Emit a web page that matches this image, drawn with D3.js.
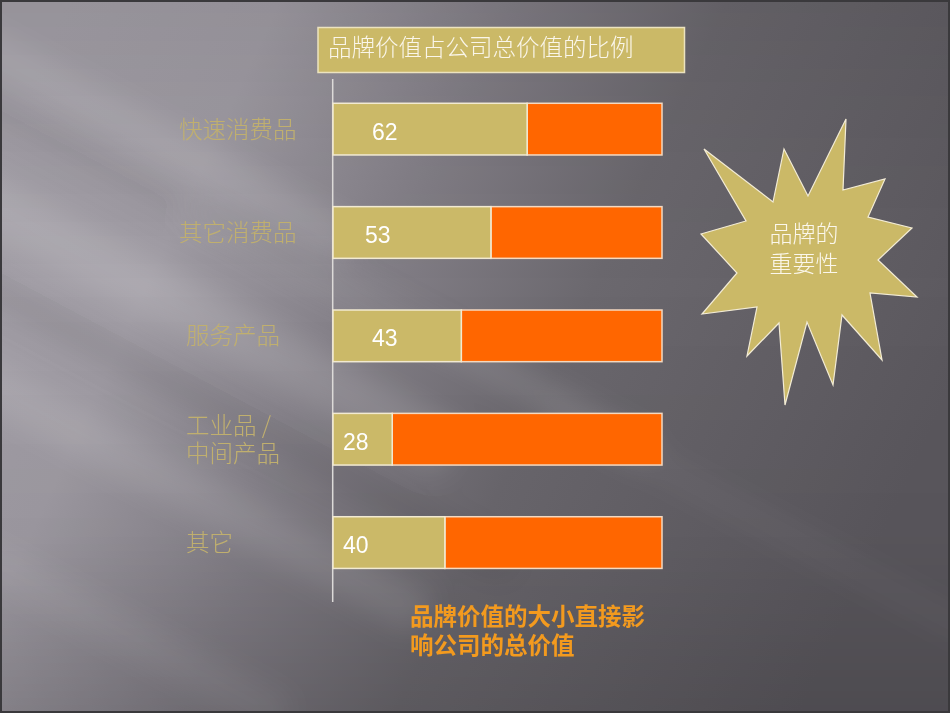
<!DOCTYPE html>
<html>
<head>
<meta charset="utf-8">
<script src="https://cdn.jsdelivr.net/npm/d3@7"></script>
<style>
  html, body { margin: 0; padding: 0; background: #5c595f; }
  svg { display: block; }
</style>
</head>
<body>
<svg id="chart" width="950" height="713"></svg>
<script>
// ---- data ----
const categories = ["快速消费品", "其它消费品", "服务产品", "工业品 /\n中间产品", "其它"];
const brandShare = [59, 48, 39, 18, 34];          // tan segment length as drawn (% of bar)
const valueLabels = ["62", "53", "43", "28", "40"]; // printed values
const chartTitle = "品牌价值占公司总价值的比例";
const noteLines = ["品牌价值的大小直接影", "响公司的总价值"];
const burstLines = ["品牌的", "重要性"];

// ---- drawing ----
const W = 950, H = 713;
const svg = d3.select("#chart");
const defs = svg.append("defs");

// background
const bg = defs.append("linearGradient").attr("id", "bg")
  .attr("x1", "0").attr("y1", "0.2").attr("x2", "1").attr("y2", "0.55");
[[0, "#a4a0a8"], [0.2, "#a09ca4"], [0.42, "#827e86"], [0.62, "#6b686e"], [1, "#5b585e"]]
  .forEach(([o, c]) => bg.append("stop").attr("offset", o).attr("stop-color", c));
const vg = defs.append("linearGradient").attr("id", "vshade")
  .attr("x1", "0").attr("y1", "0").attr("x2", "0").attr("y2", "1");
[[0, "#000", 0.08], [0.4, "#000", 0], [0.75, "#000", 0.04], [1, "#000", 0.14]]
  .forEach(([o, c, a]) => vg.append("stop").attr("offset", o).attr("stop-color", c).attr("stop-opacity", a));
const blur = defs.append("filter").attr("id", "blur")
  .attr("x", "-50%").attr("y", "-50%").attr("width", "200%").attr("height", "200%");
blur.append("feGaussianBlur").attr("stdDeviation", 14);

svg.append("rect").attr("width", W).attr("height", H).attr("fill", "url(#bg)");
const streaks = svg.append("g").attr("filter", "url(#blur)");
[
  { cx: 120, cy: 120, w: 520, h: 40, o: 0.12, c: "#fff" },
  { cx: 170, cy: 300, w: 640, h: 55, o: 0.13, c: "#fff" },
  { cx: 150, cy: 470, w: 620, h: 45, o: 0.11, c: "#fff" },
  { cx: 420, cy: 330, w: 520, h: 30, o: 0.10, c: "#fff" },
  { cx: 100, cy: 620, w: 420, h: 40, o: 0.07, c: "#fff" },
  { cx: 200, cy: 400, w: 700, h: 28, o: 0.08, c: "#000" },
  { cx: 180, cy: 200, w: 600, h: 24, o: 0.06, c: "#000" },
  { cx: 760, cy: 520, w: 500, h: 30, o: 0.04, c: "#fff" }
].forEach(s => streaks.append("rect")
  .attr("x", s.cx - s.w / 2).attr("y", s.cy - s.h / 2)
  .attr("width", s.w).attr("height", s.h)
  .attr("fill", s.c).attr("opacity", s.o)
  .attr("transform", `rotate(28 ${s.cx} ${s.cy})`));
svg.append("rect").attr("width", W).attr("height", H).attr("fill", "url(#vshade)");
svg.append("rect").attr("x", 1).attr("y", 1).attr("width", W - 2).attr("height", H - 2)
  .attr("fill", "none").attr("stroke", "#3a393c").attr("stroke-width", 2);

// scales
const x = d3.scaleLinear().domain([0, 100]).range([333, 662]);
const y = d3.scaleBand().domain(categories).range([51.6, 620.1])
  .paddingInner(0.5).paddingOuter(0.5);

// vertical axis line
svg.append("line").attr("x1", 332.7).attr("x2", 332.7).attr("y1", 79).attr("y2", 602)
  .attr("stroke", "#dcdad8").attr("stroke-width", 1.5);

// title box
svg.append("rect").attr("x", 318).attr("y", 27.5).attr("width", 366.5).attr("height", 45)
  .attr("fill", "#cbb967").attr("stroke", "#ece3bf").attr("stroke-width", 1.5);
svg.append("text").attr("x", 328).attr("y", 48).attr("dy", "0.36em")
  .attr("font-family", "'Noto Sans CJK SC', sans-serif").attr("font-weight", 300)
  .attr("font-size", 23.5).attr("fill", "#faf6ea").text(chartTitle);

// bars
const rows = categories.map((c, i) => ({ cat: c, v: brandShare[i], label: valueLabels[i] }));
const g = svg.append("g");
g.selectAll("rect.rest").data(rows).join("rect").attr("class", "rest")
  .attr("x", d => x(d.v)).attr("y", d => y(d.cat))
  .attr("width", d => x(100) - x(d.v)).attr("height", y.bandwidth())
  .attr("fill", "#ff6600").attr("stroke", "#f4d9c0").attr("stroke-width", 1.5);
g.selectAll("rect.brand").data(rows).join("rect").attr("class", "brand")
  .attr("x", x(0)).attr("y", d => y(d.cat))
  .attr("width", d => x(d.v) - x(0)).attr("height", y.bandwidth())
  .attr("fill", "#cbb968").attr("stroke", "#f2ead2").attr("stroke-width", 1.5);
g.selectAll("text.val").data(rows).join("text").attr("class", "val")
  .attr("x", d => x(0) + (d.v < 36 ? 10 : (d.v < 50 && d.v > 45 ? 32 : 39)))
  .attr("y", d => y(d.cat) + y.bandwidth() / 2 + 10.5)
  .attr("font-family", "'Liberation Sans', Arial, sans-serif")
  .attr("font-size", 23).attr("fill", "#ffffff").text(d => d.label);

// category labels
const cl = svg.append("g").selectAll("text").data(rows).join("text")
  .attr("font-family", "'Noto Sans CJK SC', sans-serif").attr("font-weight", 300)
  .attr("font-size", 23.5).attr("fill", "#c0af6e")
  .attr("y", d => y(d.cat) + y.bandwidth() / 2);
cl.each(function(d) {
  const lines = d.cat.split("\n");
  const t = d3.select(this);
  lines.forEach((ln, k) => t.append("tspan").attr("x", d.cat.length >= 5 && lines.length === 1 ? 179 : 186)
    .attr("dy", k === 0 ? `${0.36 - (lines.length - 1) * 0.6}em` : "1.2em").text(ln));
});

// note text
svg.append("g").selectAll("text").data(noteLines).join("text")
  .attr("x", 410).attr("y", (d, i) => 617 + i * 28.5).attr("dy", "0.36em")
  .attr("font-family", "'Noto Sans CJK SC', sans-serif").attr("font-weight", 700)
  .attr("font-size", 23.5).attr("fill", "#f39a1e").text(d => d);

// starburst
const burst = [[704,149],[773,202],[784,149],[808,196],[846,119],[843,190],[885,179],[868,217],
  [912,228],[878,260],[917,297],[870,293],[882,360],[842,315],[833,385],[807,322],[785,405],
  [779,323],[747,356],[757,307],[702,314],[737,273],[701,234],[746,221]];
svg.append("path").attr("d", d3.line()(burst) + "Z")
  .attr("fill", "#cbb967").attr("stroke", "#f3ecd6").attr("stroke-width", 1.2)
  .attr("stroke-linejoin", "miter");
svg.append("g").selectAll("text").data(burstLines).join("text")
  .attr("x", 804).attr("y", (d, i) => 234 + i * 30).attr("dy", "0.36em")
  .attr("text-anchor", "middle")
  .attr("font-family", "'Noto Sans CJK SC', sans-serif").attr("font-weight", 300)
  .attr("font-size", 23).attr("fill", "#fbf7ec").text(d => d);
</script>
</body>
</html>
